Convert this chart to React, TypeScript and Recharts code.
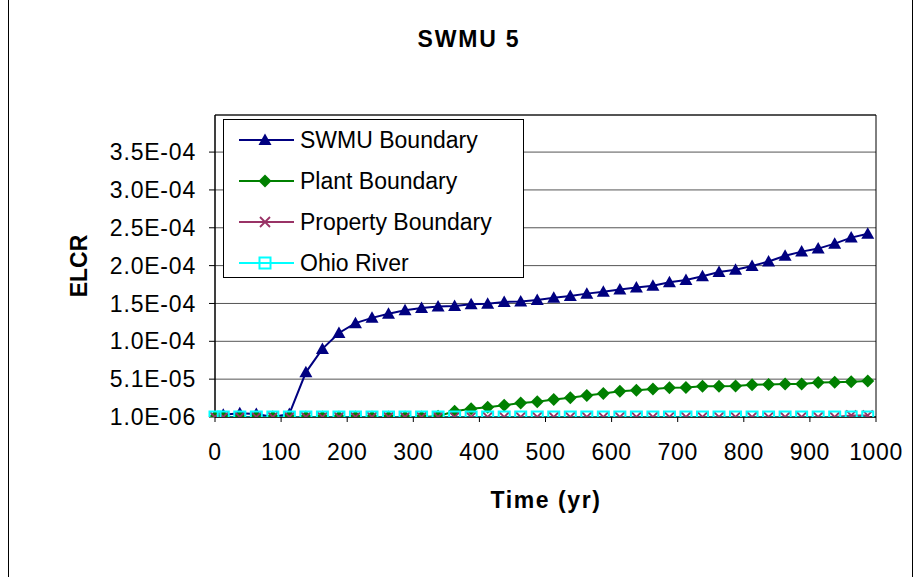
import { LineChart, Line, XAxis, YAxis, CartesianGrid, Legend, ReferenceArea } from 'recharts';

const times = [
  0, 12.5, 37.5, 62.5, 87.5, 112.5, 137.5, 162.5, 187.5, 212.5, 237.5, 262.5, 287.5, 312.5,
  337.5, 362.5, 387.5, 412.5, 437.5, 462.5, 487.5, 512.5, 537.5, 562.5, 587.5, 612.5, 637.5,
  662.5, 687.5, 712.5, 737.5, 762.5, 787.5, 812.5, 837.5, 862.5, 887.5, 912.5, 937.5, 962.5, 987.5,
];

const swmuBoundary = [
  1.0e-6, 4.0e-6, 6.0e-6, 5.0e-6, 1.0e-6, 5.0e-6, 6.0e-5, 9.1e-5, 1.12e-4, 1.25e-4, 1.32e-4,
  1.375e-4, 1.42e-4, 1.45e-4, 1.47e-4, 1.475e-4, 1.5e-4, 1.505e-4, 1.53e-4, 1.535e-4, 1.555e-4,
  1.585e-4, 1.61e-4, 1.64e-4, 1.665e-4, 1.695e-4, 1.72e-4, 1.745e-4, 1.79e-4, 1.82e-4, 1.87e-4,
  1.925e-4, 1.955e-4, 2.005e-4, 2.065e-4, 2.14e-4, 2.195e-4, 2.235e-4, 2.3e-4, 2.38e-4, 2.43e-4,
];

const plantBoundary = [
  1.0e-6, 1.0e-6, 1.0e-6, 1.0e-6, 1.0e-6, 1.0e-6, 1.0e-6, 1.0e-6, 1.0e-6, 1.0e-6, 1.0e-6,
  1.0e-6, 1.0e-6, 1.0e-6, 2.0e-6, 8.5e-6, 1.2e-5, 1.4e-5, 1.65e-5, 1.95e-5, 2.1e-5, 2.4e-5,
  2.65e-5, 2.95e-5, 3.2e-5, 3.5e-5, 3.65e-5, 3.8e-5, 3.95e-5, 4.0e-5, 4.15e-5, 4.15e-5, 4.2e-5,
  4.35e-5, 4.4e-5, 4.45e-5, 4.45e-5, 4.65e-5, 4.7e-5, 4.75e-5, 4.85e-5,
];

const propertyBoundary = [
  1.0e-6, 1.0e-6, 1.0e-6, 1.0e-6, 1.0e-6, 1.0e-6, 1.0e-6, 1.0e-6, 1.0e-6, 1.0e-6, 1.0e-6,
  1.0e-6, 1.0e-6, 1.0e-6, 1.0e-6, 1.0e-6, 1.0e-6, 1.0e-6, 1.0e-6, 1.0e-6, 1.0e-6, 1.0e-6,
  1.0e-6, 1.0e-6, 1.0e-6, 1.0e-6, 1.0e-6, 1.0e-6, 1.0e-6, 1.0e-6, 1.0e-6, 1.0e-6, 1.0e-6,
  1.0e-6, 1.0e-6, 1.0e-6, 1.0e-6, 1.0e-6, 1.0e-6, 3.0e-6, 3.0e-6,
];

const ohioRiver = [
  1.0e-6, 1.0e-6, 1.0e-6, 1.0e-6, 1.0e-6, 1.0e-6, 1.0e-6, 1.0e-6, 1.0e-6, 1.0e-6, 1.0e-6,
  1.0e-6, 1.0e-6, 1.0e-6, 1.0e-6, 1.0e-6, 1.0e-6, 1.0e-6, 1.0e-6, 1.0e-6, 1.0e-6, 1.0e-6,
  1.0e-6, 1.0e-6, 1.0e-6, 1.0e-6, 1.0e-6, 1.0e-6, 1.0e-6, 1.0e-6, 1.0e-6, 1.0e-6, 1.0e-6,
  1.0e-6, 1.0e-6, 1.0e-6, 1.0e-6, 1.0e-6, 1.0e-6, 1.0e-6, 1.0e-6,
];

const xTicks = [0, 100, 200, 300, 400, 500, 600, 700, 800, 900, 1000];
const yTicks = [1.0e-6, 5.1e-5, 1.01e-4, 1.51e-4, 2.01e-4, 2.51e-4, 3.01e-4, 3.51e-4];

const seriesNames = ['SWMU Boundary', 'Plant Boundary', 'Property Boundary', 'Ohio River'];

const data = times.map((t, i) => ({
  time: t,
  swmu: swmuBoundary[i],
  plant: plantBoundary[i],
  property: propertyBoundary[i],
  ohio: ohioRiver[i],
}));

const FONT = '"Liberation Sans", Arial, sans-serif';
const NAVY = '#000080';
const GREEN = '#008000';
const PLUM = '#993366';
const CYAN = '#00FFFF';

function fmtSci(v: number) {
  const [m, e] = v.toExponential(1).split('e');
  const n = parseInt(e, 10);
  return `${m}E${n < 0 ? '-' : '+'}${String(Math.abs(n)).padStart(2, '0')}`;
}

function marker(kind: string, cx: number, cy: number, key?: string) {
  if (kind === 'triangle')
    return <path key={key} d={`M${cx},${cy - 6.5} L${cx + 6.5},${cy + 5} L${cx - 6.5},${cy + 5} Z`} fill={NAVY} />;
  if (kind === 'diamond')
    return <path key={key} d={`M${cx},${cy - 6.5} L${cx + 6.5},${cy} L${cx},${cy + 6.5} L${cx - 6.5},${cy} Z`} fill={GREEN} />;
  if (kind === 'cross')
    return (
      <path key={key} d={`M${cx - 5},${cy - 5} L${cx + 5},${cy + 5} M${cx + 5},${cy - 5} L${cx - 5},${cy + 5}`}
        stroke={PLUM} strokeWidth={1.8} fill="none" />
    );
  return <rect key={key} x={cx - 5.5} y={cy - 5.5} width={11} height={11} fill="none" stroke={CYAN} strokeWidth={2} />;
}

const dotFor = (kind: string) => (props: any) => marker(kind, props.cx, props.cy, `${kind}-${props.index}`);

const legendRows = [
  { name: seriesNames[0], color: NAVY, kind: 'triangle' },
  { name: seriesNames[1], color: GREEN, kind: 'diamond' },
  { name: seriesNames[2], color: PLUM, kind: 'cross' },
  { name: seriesNames[3], color: CYAN, kind: 'square' },
];

function LegendBox() {
  return (
    <div style={{ width: 301, height: 159, border: '1px solid #000', background: '#fff', boxSizing: 'border-box' }}>
      <svg width={299} height={157}>
        {legendRows.map((r, i) => {
          const y = 20 + i * 41;
          return (
            <g key={r.name}>
              <line x1={15} x2={70} y1={y} y2={y} stroke={r.color} strokeWidth={2} />
              {marker(r.kind, 41, y)}
              <text x={76} y={y} dy="0.36em" fontSize={23} fontFamily={FONT} fill="#000">
                {r.name}
              </text>
            </g>
          );
        })}
      </svg>
    </div>
  );
}

export default function App() {
  return (
    <div style={{ position: 'absolute', left: 0, top: 0, width: 915, height: 577, background: '#fff', fontFamily: FONT }}>
      <div style={{ position: 'absolute', left: 8, top: 0, width: 905, height: 577, borderLeft: '1px solid #000', borderRight: '1px solid #000', boxSizing: 'border-box' }} />
      <div style={{ position: 'absolute', left: 369, top: 26, width: 200, textAlign: 'center', fontWeight: 'bold', fontSize: 23, letterSpacing: 1.8, color: '#000' }}>
        SWMU 5
      </div>
      <div style={{ position: 'absolute', left: 0, top: 0 }}>
        <LineChart width={915} height={577} data={data} margin={{ top: 115, right: 39, bottom: 120, left: 0 }}>
          <CartesianGrid vertical={false} stroke="#555" />
          <ReferenceArea x1={0} x2={1000} y1={1e-6} y2={4e-4} fill="none" stroke="#000" strokeWidth={1} ifOverflow="visible" />
          <XAxis
            type="number"
            dataKey="time"
            domain={[0, 1000]}
            ticks={xTicks}
            interval={0}
            tickSize={5}
            tickMargin={22}
            height={40}
            axisLine={{ stroke: '#000' }}
            tickLine={{ stroke: '#000' }}
            tick={{ fill: '#000', fontSize: 23, fontFamily: FONT, letterSpacing: 0.6 }}
            label={{
              content: () => (
                <text x={546} y={508} textAnchor="middle" fontSize={23} fontWeight="bold" fontFamily={FONT} letterSpacing={1.6} fill="#000">
                  Time (yr)
                </text>
              ),
            }}
          />
          <YAxis
            type="number"
            domain={[1e-6, 4e-4]}
            ticks={yTicks}
            interval={0}
            width={215}
            tickSize={6}
            tickMargin={13}
            allowDataOverflow
            tickFormatter={fmtSci}
            axisLine={{ stroke: '#000' }}
            tickLine={{ stroke: '#000' }}
            tick={{ fill: '#000', fontSize: 23, fontFamily: FONT, letterSpacing: 0.8 }}
            label={{
              content: () => (
                <text x={87} y={266} transform="rotate(-90 87 266)" textAnchor="middle" fontSize={23} fontWeight="bold" fontFamily={FONT} fill="#000">
                  ELCR
                </text>
              ),
            }}
          />
          <Legend
            layout="horizontal"
            verticalAlign="middle"
            align="center"
            content={() => <LegendBox />}
            wrapperStyle={{ left: 223, top: 119, width: 301, height: 159 }}
          />
          <Line name={seriesNames[0]} dataKey="swmu" stroke={NAVY} strokeWidth={2} dot={dotFor('triangle')} isAnimationActive={false} />
          <Line name={seriesNames[1]} dataKey="plant" stroke={GREEN} strokeWidth={2} dot={dotFor('diamond')} isAnimationActive={false} />
          <Line name={seriesNames[2]} dataKey="property" stroke={PLUM} strokeWidth={2} dot={dotFor('cross')} isAnimationActive={false} />
          <Line name={seriesNames[3]} dataKey="ohio" stroke={CYAN} strokeWidth={2} dot={dotFor('square')} isAnimationActive={false} />
        </LineChart>
      </div>
    </div>
  );
}
